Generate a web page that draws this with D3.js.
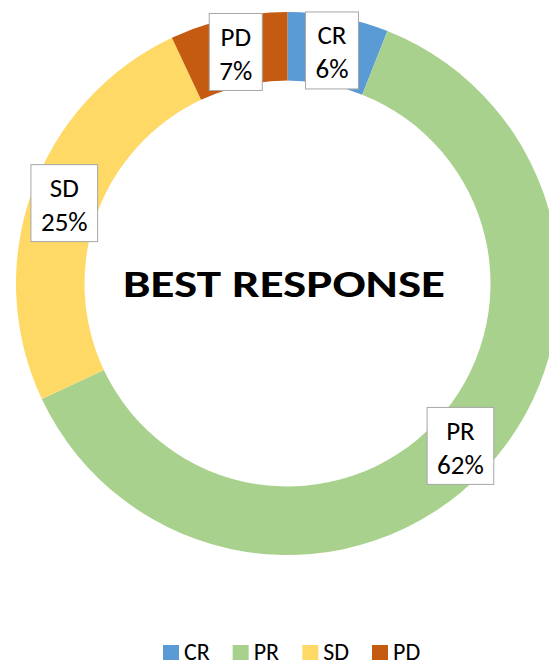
<!DOCTYPE html>
<html>
<head>
<meta charset="utf-8">
<script src="https://cdn.jsdelivr.net/npm/d3@7"></script>
<style>
  html, body { margin: 0; padding: 0; background: #fff; }
  svg { display: block; }
  text { font-family: Carlito, Lato, "Open Sans", sans-serif; fill: #000; }
</style>
</head>
<body>
<svg id="chart" width="549" height="666"></svg>
<script>
// Best response breakdown (percent of patients)
const categories = ["CR", "PR", "SD", "PD"];
const values = [6, 62, 25, 7];
const colors = ["#5B9BD5", "#A9D18E", "#FFD966", "#C55A11"];
const title = "BEST RESPONSE";

const svg = d3.select("#chart");
const cx = 287.5, cy = 283.5;
const outerR = 271.5, innerR = 203;

const data = categories.map((c, i) => ({ cat: c, value: values[i], color: colors[i] }));

const pie = d3.pie().value(d => d.value).sort(null);
const arcs = pie(data);
const arc = d3.arc().innerRadius(innerR).outerRadius(outerR);

const g = svg.append("g").attr("transform", `translate(${cx},${cy})`);

g.selectAll("path.slice")
  .data(arcs)
  .join("path")
  .attr("class", "slice")
  .attr("d", arc)
  .attr("fill", d => d.data.color);

// Centre title
g.append("text")
  .attr("x", -3.5)
  .attr("y", 13.5)
  .attr("text-anchor", "middle")
  .attr("font-weight", "bold")
  .attr("font-size", 38)
  .attr("textLength", 322)
  .attr("lengthAdjust", "spacingAndGlyphs")
  .text(title);

// Data labels in boxes at slice centroids
const labelH = 77;
const labels = g.selectAll("g.label")
  .data(arcs)
  .join("g")
  .attr("class", "label")
  .attr("transform", d => {
    const [x, y] = arc.centroid(d);
    return `translate(${x},${y})`;
  });

labels.each(function(d) {
  const sel = d3.select(this);
  const rect = sel.append("rect");
  const t1 = sel.append("text")
    .attr("text-anchor", "middle")
    .attr("font-size", 27)
    .attr("y", -6)
    .text(d.data.cat);
  const t2 = sel.append("text")
    .attr("text-anchor", "middle")
    .attr("font-size", 27)
    .attr("y", 28)
    .text(d.data.value + "%");
  const w = Math.max(t1.node().getComputedTextLength(), t2.node().getComputedTextLength()) + 20;
  rect.attr("x", -w / 2).attr("y", -labelH / 2)
    .attr("width", w).attr("height", labelH)
    .attr("fill", "#fff")
    .attr("stroke", "#a6a6a6")
    .attr("stroke-width", 1);
});

// Legend
const legendX = d3.scalePoint().domain(categories).range([163, 372]);
const legend = svg.selectAll("g.legend")
  .data(data)
  .join("g")
  .attr("class", "legend")
  .attr("transform", d => `translate(${legendX(d.cat)},645)`);

legend.append("rect")
  .attr("width", 16).attr("height", 15)
  .attr("fill", d => d.color);

legend.append("text")
  .attr("x", 21)
  .attr("y", 15)
  .attr("font-size", 24)
  .text(d => d.cat);
</script>
</body>
</html>
